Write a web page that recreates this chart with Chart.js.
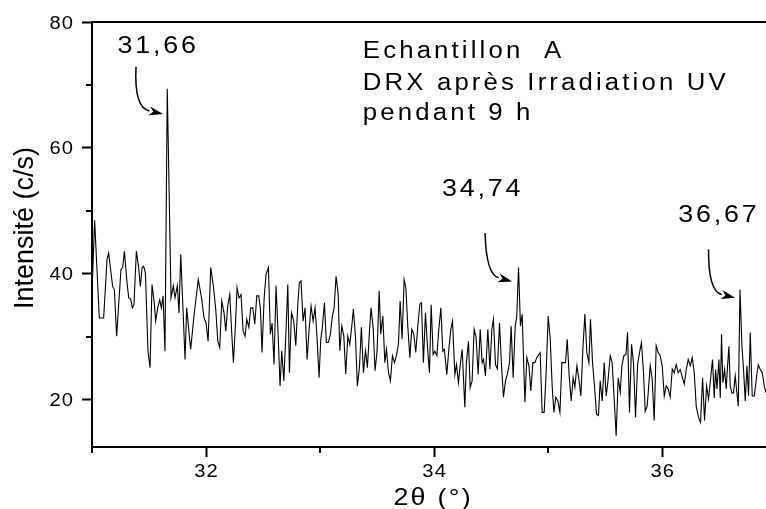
<!DOCTYPE html>
<html>
<head>
<meta charset="utf-8">
<script src="https://cdn.jsdelivr.net/npm/chart.js@4.4.0/dist/chart.umd.min.js"></script>
<style>
  html, body { margin: 0; padding: 0; background: #fff; }
  canvas { display: block; }
</style>
</head>
<body>
<canvas id="drx" width="766" height="509"></canvas>
<script>
// DRX of sample A after 9 h UV irradiation — pattern.
// 2theta (deg) and intensity (c/s), one entry per vertex of the trace.
const TWO_THETA = [
  31.000,31.023,31.064,31.102,31.132,31.146,31.181,31.196,31.216,31.254,31.269,31.284,31.307,31.322,31.339,31.354,
  31.368,31.389,31.409,31.424,31.439,31.453,31.468,31.491,31.509,31.526,31.544,31.558,31.576,31.594,31.608,31.623,
  31.640,31.660,31.693,31.713,31.728,31.748,31.763,31.778,31.816,31.830,31.865,31.897,31.932,31.962,31.982,32.000,
  32.018,32.041,32.064,32.085,32.103,32.120,32.138,32.158,32.173,32.190,32.208,32.225,32.240,32.257,32.272,32.289,
  32.307,32.325,32.342,32.357,32.375,32.392,32.410,32.427,32.445,32.462,32.477,32.491,32.509,32.526,32.547,32.564,
  32.579,32.596,32.614,32.632,32.649,32.664,32.682,32.699,32.717,32.731,32.749,32.769,32.787,32.804,32.818,32.833,
  32.851,32.868,32.886,32.904,32.921,32.939,32.956,32.974,32.991,33.006,33.020,33.038,33.055,33.073,33.090,33.108,
  33.123,33.140,33.158,33.173,33.190,33.208,33.225,33.243,33.260,33.278,33.292,33.310,33.327,33.345,33.362,33.380,
  33.398,33.415,33.433,33.447,33.465,33.482,33.500,33.518,33.532,33.550,33.568,33.582,33.600,33.617,33.634,33.652,
  33.669,33.687,33.702,33.719,33.737,33.752,33.769,33.787,33.804,33.822,33.839,33.857,33.875,33.889,33.906,33.924,
  33.941,33.959,33.974,33.991,34.006,34.024,34.041,34.059,34.076,34.090,34.111,34.129,34.146,34.161,34.182,34.196,
  34.213,34.231,34.246,34.269,34.283,34.301,34.316,34.333,34.351,34.368,34.386,34.404,34.421,34.433,34.450,34.471,
  34.489,34.506,34.520,34.538,34.555,34.573,34.591,34.608,34.626,34.643,34.661,34.675,34.693,34.711,34.725,34.740,
  34.757,34.772,34.796,34.813,34.831,34.848,34.866,34.883,34.901,34.918,34.930,34.947,34.965,34.982,35.000,35.018,
  35.035,35.050,35.067,35.085,35.103,35.120,35.134,35.152,35.167,35.184,35.202,35.219,35.234,35.252,35.269,35.287,
  35.304,35.322,35.339,35.357,35.371,35.389,35.406,35.424,35.441,35.456,35.474,35.491,35.509,35.526,35.544,35.561,
  35.579,35.596,35.614,35.632,35.646,35.664,35.682,35.696,35.713,35.731,35.748,35.766,35.784,35.801,35.818,35.836,
  35.851,35.868,35.895,35.912,35.930,35.947,35.965,35.982,36.000,36.018,36.035,36.053,36.070,36.088,36.105,36.123,
  36.140,36.158,36.173,36.193,36.211,36.228,36.246,36.263,36.281,36.298,36.318,36.336,36.354,36.371,36.389,36.406,
  36.424,36.441,36.456,36.468,36.480,36.497,36.509,36.520,36.532,36.547,36.561,36.573,36.585,36.596,36.611,36.625,
  36.640,36.655,36.667,36.682,36.699,36.713,36.728,36.743,36.757,36.772,36.789,36.807,36.825,36.842,36.860,36.877,
  36.895,36.910
];
const COUNTS = [
  37.0,48.5,33.0,33.0,42.3,43.3,38.0,37.5,30.1,40.7,41.0,43.6,38.6,36.2,36.0,34.6,
  35.1,43.6,41.0,38.0,41.0,41.2,40.2,27.7,25.1,38.3,35.7,32.5,34.6,35.9,34.6,36.5,
  27.7,69.4,36.2,38.1,36.2,38.1,33.8,43.1,26.4,34.6,28.0,33.8,39.1,36.0,33.0,32.2,
  29.3,41.0,38.1,34.4,29.3,28.3,35.7,33.8,30.9,34.9,36.7,30.7,25.9,31.7,37.8,36.2,
  36.7,30.9,30.1,32.8,31.5,34.6,34.6,32.0,36.5,36.5,34.4,27.5,36.0,39.9,41.0,30.4,
  32.2,25.6,38.1,30.4,22.2,27.8,23.0,30.1,38.3,24.3,33.8,32.5,28.6,34.9,38.6,38.9,
  32.5,34.6,26.4,31.2,34.9,32.5,34.6,29.6,23.5,29.6,31.5,35.4,29.1,29.1,30.4,33.3,
  34.6,39.6,37.0,27.8,31.7,30.1,24.1,30.1,28.8,31.7,34.4,30.1,22.2,25.1,31.5,24.3,
  27.8,25.1,30.9,34.6,31.5,24.6,27.8,37.3,30.4,33.3,25.9,28.0,24.3,23.0,27.0,25.9,
  27.0,28.8,35.7,29.6,39.1,37.8,31.7,26.7,31.2,30.4,27.5,31.7,35.2,35.4,25.9,33.8,
  28.6,24.3,35.1,27.2,27.7,27.0,31.2,34.6,27.7,28.0,24.0,28.0,31.2,32.5,24.0,25.6,
  22.7,25.9,28.0,18.8,25.9,29.3,21.9,23.0,31.2,29.9,24.0,31.2,25.9,26.4,23.8,31.2,
  24.9,31.2,32.8,25.6,24.9,32.2,25.4,20.4,23.0,24.1,25.9,31.7,23.5,31.7,33.3,41.0,
  31.7,33.6,19.6,26.7,25.4,21.4,25.9,25.9,26.7,27.2,27.5,18.0,18.0,24.3,33.3,29.6,
  22.2,18.0,20.4,19.8,18.0,25.9,25.9,25.9,29.6,23.8,19.8,23.5,22.0,25.4,23.3,20.6,
  28.0,33.6,27.5,25.9,32.8,25.9,22.2,17.7,17.5,23.0,19.8,25.9,20.6,23.3,27.0,25.9,
  20.1,14.3,23.5,21.2,25.4,27.0,27.2,30.7,18.0,28.8,25.9,17.2,25.6,27.5,29.1,24.3,
  18.2,19.0,25.4,23.3,16.7,28.6,27.5,27.0,25.4,20.6,22.2,21.7,20.4,24.9,24.3,25.6,
  24.3,24.8,23.8,22.5,24.8,26.4,25.4,26.7,24.3,19.0,17.2,16.4,23.5,16.7,22.2,20.1,
  23.3,26.4,20.3,24.8,21.7,26.4,20.3,30.4,22.7,24.8,21.7,25.4,28.5,22.2,21.1,21.1,
  23.8,21.1,19.0,37.5,28.5,24.8,19.8,25.4,20.6,30.7,20.6,20.6,23.3,25.6,24.8,24.3,
  22.2,21.1
];

// Axis ticks
const X_TICKS = [32, 34, 36];
const X_MINOR = [31, 33, 35];
const Y_TICKS = [20, 40, 60, 80];
const Y_MINOR = [30, 50, 70];

// Peak labels and their arrows (data units: 2theta, c/s)
const PEAK_LABELS = ['31,66', '34,74', '36,67'];
const PEAK_LABEL_X = [31.567, 34.412, 36.484];
const PEAK_LABEL_Y = [75.0, 52.3, 48.2];
const ARROW_FROM = [[31.386, 72.9], [34.447, 46.5], [36.406, 43.9]];
const ARROW_BEND = [[31.368, 66.4], [34.456, 39.9], [36.404, 37.2]];
const ARROW_TO   = [[31.623, 65.4], [34.684, 38.8], [36.640, 36.2]];

const NOTE_LINES = ['Echantillon  A', 'DRX après Irradiation UV', 'pendant 9 h'];
const NOTE_X = 33.375;
const NOTE_Y = [74.25, 69.2, 64.45];

const FONT = "'Liberation Sans', Arial, Helvetica, sans-serif";
const STRETCH = 1.12;   // the original lettering is drawn slightly wide and spaced

function drawText(ctx, s, px, py, size, sx, spacing, align, baseline) {
  ctx.save();
  ctx.translate(px, py);
  ctx.scale(sx, 1);
  ctx.font = size + 'px ' + FONT;
  ctx.letterSpacing = spacing + 'px';
  ctx.textAlign = 'left';
  ctx.textBaseline = baseline || 'alphabetic';
  const w = ctx.measureText(s).width - spacing;
  const left = align === 'center' ? -w / 2 : align === 'right' ? -w : 0;
  ctx.fillText(s, left, 0);
  ctx.restore();
}

function arrow(ctx, x, y, i) {
  const p0 = [x.getPixelForValue(ARROW_FROM[i][0]), y.getPixelForValue(ARROW_FROM[i][1])];
  const p1 = [x.getPixelForValue(ARROW_BEND[i][0]), y.getPixelForValue(ARROW_BEND[i][1])];
  const p2 = [x.getPixelForValue(ARROW_TO[i][0]), y.getPixelForValue(ARROW_TO[i][1])];
  const ang = Math.atan2(p2[1] - p1[1], p2[0] - p1[0]);
  const len = 14, half = 4.5;
  const bx = p2[0] - len * Math.cos(ang), by = p2[1] - len * Math.sin(ang);
  ctx.lineWidth = 1.5;
  ctx.beginPath();
  ctx.moveTo(p0[0], p0[1]);
  ctx.quadraticCurveTo(p1[0], p1[1], bx, by);
  ctx.stroke();
  ctx.beginPath();
  ctx.moveTo(p2[0], p2[1]);
  ctx.lineTo(bx + half * Math.sin(ang), by - half * Math.cos(ang));
  ctx.lineTo(bx + 4 * Math.cos(ang), by + 4 * Math.sin(ang));
  ctx.lineTo(bx - half * Math.sin(ang), by + half * Math.cos(ang));
  ctx.closePath();
  ctx.fill();
}

const decorations = {
  id: 'decorations',
  afterDraw(chart) {
    const { ctx, chartArea: a, scales: { x, y } } = chart;
    ctx.save();
    ctx.strokeStyle = '#000';
    ctx.fillStyle = '#000';
    // top frame line
    ctx.lineWidth = 2;
    ctx.beginPath();
    ctx.moveTo(a.left - 1, a.top);
    ctx.lineTo(a.right, a.top);
    ctx.stroke();
    // minor ticks
    ctx.beginPath();
    X_MINOR.forEach(v => {
      const px = Math.round(x.getPixelForValue(v));
      ctx.moveTo(px, a.bottom);
      ctx.lineTo(px, a.bottom + 6);
    });
    Y_MINOR.forEach(v => {
      const py = Math.round(y.getPixelForValue(v));
      ctx.moveTo(a.left - 6, py);
      ctx.lineTo(a.left, py);
    });
    ctx.stroke();

    // tick labels, placed through the scales
    x.ticks.forEach(t => {
      drawText(ctx, String(t.value), x.getPixelForValue(t.value), a.bottom + 30, 18, 1.12, 1, 'center');
    });
    y.ticks.forEach(t => {
      drawText(ctx, String(t.value), a.left - 19, y.getPixelForValue(t.value) + 6.5, 18, 1.12, 1, 'right');
    });

    // axis titles
    drawText(ctx, '2θ (°)', (a.left + a.right) / 2 + 3, a.bottom + 58, 24, STRETCH, 2, 'center');
    ctx.save();
    ctx.translate(a.left - 59, (a.top + a.bottom) / 2 - 6.5);
    ctx.rotate(-Math.PI / 2);
    drawText(ctx, 'Intensité (c/s)', 0, 0, 27, 1, 0, 'center');
    ctx.restore();

    // notes
    NOTE_LINES.forEach((s, i) => {
      drawText(ctx, s, x.getPixelForValue(NOTE_X), y.getPixelForValue(NOTE_Y[i]), 23, STRETCH, 2.8, 'left');
    });
    // peak labels + arrows
    PEAK_LABELS.forEach((s, i) => {
      drawText(ctx, s, x.getPixelForValue(PEAK_LABEL_X[i]), y.getPixelForValue(PEAK_LABEL_Y[i]), 24, STRETCH, 2.5, 'center');
      arrow(ctx, x, y, i);
    });
    ctx.restore();
  }
};

const points = TWO_THETA.map((t, i) => ({ x: t, y: COUNTS[i] }));

new Chart(document.getElementById('drx'), {
  type: 'line',
  data: {
    datasets: [{
      data: points,
      borderColor: '#000',
      borderWidth: 1.1,
      pointRadius: 0,
      tension: 0,
      fill: false
    }]
  },
  options: {
    responsive: false,
    animation: false,
    devicePixelRatio: 1,
    layout: { padding: { left: 0, top: 22, right: 0, bottom: 0 } },
    plugins: { legend: { display: false }, tooltip: { enabled: false } },
    scales: {
      x: {
        type: 'linear',
        min: 31,
        max: 36.91,
        afterFit(s) { s.height = 62; },
        afterBuildTicks(s) { s.ticks = X_TICKS.map(v => ({ value: v })); },
        ticks: { display: false },
        grid: { drawOnChartArea: false, drawTicks: true, tickLength: 10, tickWidth: 2, tickColor: '#000' },
        border: { display: true, color: '#000', width: 2 }
      },
      y: {
        type: 'linear',
        min: 12.5,
        max: 80,
        afterFit(s) { s.width = 92; },
        afterBuildTicks(s) { s.ticks = Y_TICKS.map(v => ({ value: v })); },
        ticks: { display: false },
        grid: { drawOnChartArea: false, drawTicks: true, tickLength: 10, tickWidth: 2, tickColor: '#000' },
        border: { display: true, color: '#000', width: 2 }
      }
    }
  },
  plugins: [decorations]
});
</script>
</body>
</html>
